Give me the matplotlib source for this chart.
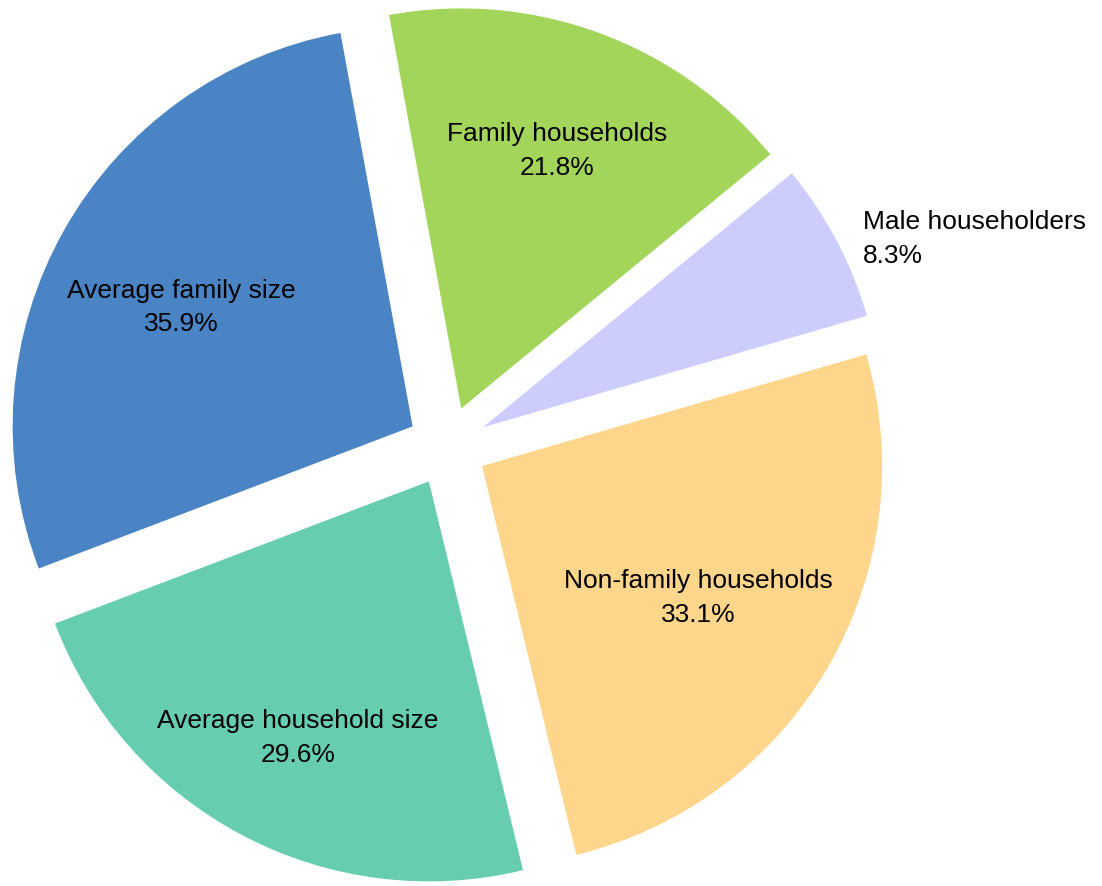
import numpy as np
import matplotlib
matplotlib.use("Agg")
import matplotlib.pyplot as plt

categories = ["Family households", "Male householders", "Non-family households",
              "Average household size", "Average family size"]
values = [21.8, 8.3, 33.1, 29.6, 35.9]
colors = ["#a3d55b", "#cccdfc", "#fdd58b", "#66cdb1", "#4a84c4"]

# label placement: (distance from pie centre in radii, angle tweak in degrees)
label_layout = [(0.786, -0.25), (1.161, -1.3), (0.733, -1.2), (0.82, 0.7), (0.75, 1.9)]

plt.rcParams["font.family"] = ["Liberation Sans", "DejaVu Sans"]

W, H = 1102, 886
fig = plt.figure(figsize=(W / 100, H / 100), dpi=100)
ax = fig.add_axes([0, 0, 1, 1])

R = 400.0              # pie radius in pixels
cx, cy = 447.5, 446.0  # pie centre in pixels from top-left

wedges, _ = ax.pie(values, colors=colors, startangle=100.4, counterclock=False,
                   explode=[0.1] * len(values), radius=1.0,
                   wedgeprops=dict(linewidth=0))

ax.set_xlim(-cx / R, (W - cx) / R)
ax.set_ylim(-(H - cy) / R, cy / R)
ax.set_aspect("equal")
ax.axis("off")

for w, name, v, (r, tweak) in zip(wedges, categories, values, label_layout):
    mid = np.deg2rad((w.theta1 + w.theta2) / 2 + tweak)
    label = f"{name}\n{v:.1f}%"
    outside = r > 1
    ax.text(r * np.cos(mid), r * np.sin(mid), label,
            ha="left" if outside else "center", va="center",
            multialignment="left" if outside else "center",
            fontsize=19, color="black", linespacing=1.52)

fig.savefig("out.png", dpi=100)
